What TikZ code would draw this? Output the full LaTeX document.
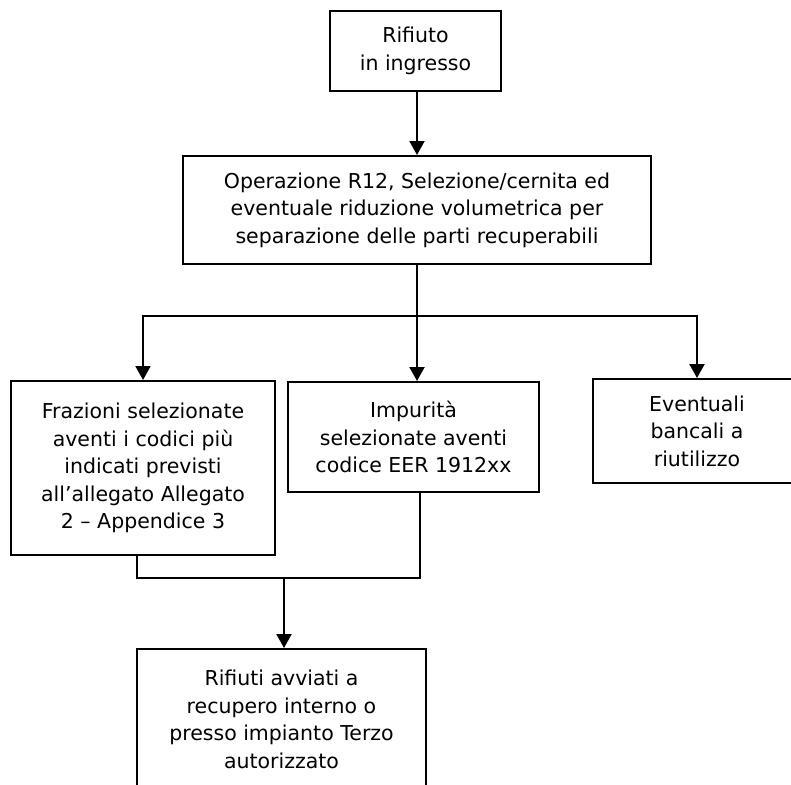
\documentclass[tikz,border=0pt]{standalone}
\usepackage{fontspec}
\setmainfont{DejaVu Sans}
\usetikzlibrary{arrows.meta}

\begin{document}
\begin{tikzpicture}[x=1pt, y=-1pt, font=\fontsize{20.5}{27.5}\selectfont, align=center,
    >={Triangle[width=15pt,length=14pt]}, line width=2pt,
    box/.style={draw, rectangle, inner sep=0pt, line width=2pt}]
        \useasboundingbox (0,0) rectangle (791,784);

        % Nodes
        \node[box, minimum width=171pt, minimum height=80pt] (in) at (415.5,51) {Rifiuto\\in ingresso};
        \node[box, minimum width=468pt, minimum height=108pt] (op) at (417,210) {Operazione R12, Selezione/cernita ed\\eventuale riduzione volumetrica per\\separazione delle parti recuperabili};

        \node[box, minimum width=264pt, minimum height=174pt] (fraz) at (143,468) {Frazioni selezionate\\aventi i codici più\\indicati previsti\\all’allegato Allegato\\2 – Appendice 3};
        \node[box, minimum width=251pt, minimum height=110pt] (imp) at (413.5,437) {Impurità\\selezionate aventi\\codice EER 1912xx};
        \node[box, minimum width=208pt, minimum height=104pt] (banc) at (697,431) {Eventuali\\bancali a\\riutilizzo};

        \node[box, minimum width=289pt, minimum height=141pt] (rec) at (281.5,719.5) {Rifiuti avviati a\\recupero interno o\\presso impianto Terzo\\autorizzato};

        % Edges
        \coordinate (split) at (417,316);
        \coordinate (join) at (284,578);
        \draw[->] (in.south -| op.north) -- (op.north);
        \draw (op.south) -- (split);
        \draw[->] (split) -| (fraz.north);
        \draw[->] (split) -- (split |- imp.north);
        \draw[->] (split) -| (banc.north);
        \draw ([xshift=-6pt]fraz.south) |- (join) -| ([xshift=6.5pt]imp.south);
        \draw[->] (join) -- (join |- rec.north);
    \end{tikzpicture}
\end{document}
